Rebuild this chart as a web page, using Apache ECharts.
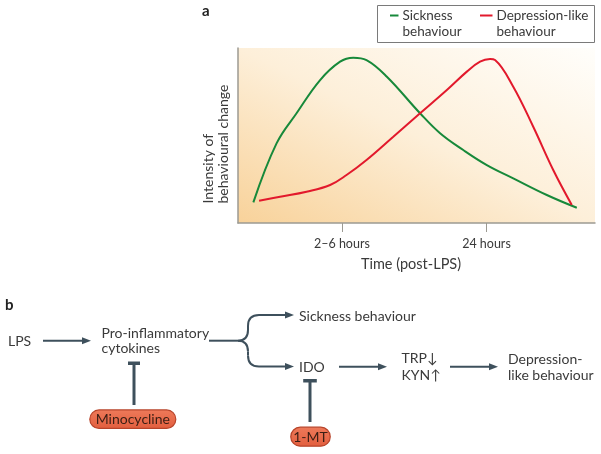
<!DOCTYPE html>
<html>
<head>
<meta charset="utf-8">
<script src="https://cdn.jsdelivr.net/npm/echarts@6/dist/echarts.min.js"></script>
<style>
html,body{margin:0;padding:0;background:#fff;}
#chart{width:601px;height:454px;}
</style>
</head>
<body>
<div id="chart"></div>
<script>
// ---- Panel a data ----
const xTickValues = [29.1, 69.6];
const xTickLabels = ['2–6 hours', '24 hours'];
const sicknessX = [4.3, 10.8, 16.4, 23.0, 28.6, 32.3, 36.0, 41.7, 51.0, 56.6, 63.1, 69.7, 77.1, 86.5, 94.9];
const sicknessY = [11.8, 45.5, 62.7, 81.7, 92.2, 94.5, 93.1, 83.6, 62.7, 51.3, 41.7, 33.1, 25.5, 16.0, 8.7];
const depressionX = [5.9, 11.8, 19.2, 25.8, 30.4, 36.0, 43.5, 51.0, 58.5, 64.1, 67.8, 70.6, 72.0, 77.1, 82.7, 88.3, 93.5];
const depressionY = [12.7, 15.0, 17.9, 21.7, 27.4, 36.0, 49.3, 62.7, 76.0, 86.5, 92.2, 93.7, 93.1, 77.9, 55.0, 30.3, 10.3];
const seriesNames = ['Sickness\nbehaviour', 'Depression-like\nbehaviour'];

const FONT = 'Lato, "Open Sans", sans-serif';
const TXT = '#3a3a3a';
const ARROW = '#3e505c';
const GREEN = '#17893a';
const RED = '#e2192c';

function pairs(xs, ys) { return xs.map((x, i) => [x, ys[i]]); }

function text(t, x, y, opts) {
  return {
    type: 'text', x: x, y: y,
    style: Object.assign({ text: t, font: '14px ' + FONT, fill: TXT, textAlign: 'left', textVerticalAlign: 'middle', lineHeight: 15 }, opts || {})
  };
}
function seg(x1, y1, x2, y2, w, color) {
  return { type: 'line', shape: { x1: x1, y1: y1, x2: x2, y2: y2 }, style: { stroke: color || ARROW, lineWidth: w || 2 } };
}
function quad(x1, y1, cx, cy, x2, y2) {
  return { type: 'bezierCurve', shape: { x1: x1, y1: y1, cpx1: cx, cpy1: cy, x2: x2, y2: y2 }, style: { stroke: ARROW, lineWidth: 2, fill: null } };
}
function head(x, y) {
  return { type: 'polygon', shape: { points: [[x, y], [x - 9, y - 3.5], [x - 9, y + 3.5]] }, style: { fill: ARROW } };
}
function arrow(x1, x2, y) {
  return [seg(x1, y, x2 - 6, y), head(x2, y)];
}
function inhibitor(x, yTop, yBot, half) {
  return [
    seg(x, yTop, x, yBot, 3),
    { type: 'rect', shape: { x: x - half, y: yTop - 2, width: half * 2, height: 3.5 }, style: { fill: ARROW } }
  ];
}
function pill(label, cx, cy, w, h) {
  return [
    { type: 'rect', shape: { x: cx - w / 2, y: cy - h / 2, width: w, height: h, r: h / 2 },
      style: { fill: { type: 'linear', x: 0, y: 0, x2: 0, y2: 1, colorStops: [{ offset: 0, color: '#ee7a5a' }, { offset: 1, color: '#e25e3e' }] }, stroke: '#b8442a', lineWidth: 1.2 } },
    text(label, cx, cy + 0.5, { textAlign: 'center', fill: '#3b1e14' })
  ];
}

const graphics = [
  // panel label a
  text('a', 202, 11, { font: 'bold 15px ' + FONT, fill: '#222' }),
  // legend box
  { type: 'rect', shape: { x: 377.5, y: 5.5, width: 217, height: 37 }, style: { fill: 'none', stroke: '#7a7a7a', lineWidth: 1 } },
  seg(390, 15.5, 398.5, 15.5, 2, GREEN),
  text(seriesNames[0], 402.5, 24, { lineHeight: 16, font: '13.5px ' + FONT }),
  seg(480, 15.5, 492.5, 15.5, 2, RED),
  text(seriesNames[1], 496.5, 24, { lineHeight: 16, font: '13.5px ' + FONT }),
  // y axis name (rotated)
  { type: 'text', x: 215.5, y: 203.5, rotation: Math.PI / 2,
    style: { text: 'Intensity of\nbehavioural change', font: '14px ' + FONT, fill: TXT, textAlign: 'left', textVerticalAlign: 'middle', lineHeight: 15 } },
  // x axis name
  text('Time (post-LPS)', 411, 264, { textAlign: 'center', font: '14.5px ' + FONT }),

  // panel b
  text('b', 5, 305, { font: 'bold 15px ' + FONT, fill: '#222' }),
  text('LPS', 8, 341),
  ...arrow(43, 91, 340.7),
  text('Pro-inflammatory\ncytokines', 101.5, 341),
  seg(209, 340.7, 238, 340.7),
  quad(238, 340.7, 248, 340.7, 248, 330),
  seg(248, 330, 248, 326),
  quad(248, 326, 248, 315, 259, 315),
  seg(259, 315, 288, 315),
  quad(238, 340.7, 248, 340.7, 248, 351.5),
  seg(248, 351.5, 248, 355.5),
  quad(248, 355.5, 248, 366.5, 259, 366.5),
  seg(259, 366.5, 288, 366.5),
  head(294, 315),
  head(294, 366.5),
  text('Sickness behaviour', 299, 316.5),
  text('IDO', 299, 367.5),
  ...arrow(339, 387, 366.7),
  text('TRP↓\nKYN↑', 401.5, 367, { lineHeight: 16.5 }),
  ...arrow(450, 498, 366.7),
  text('Depression-\nlike behaviour', 508, 367.5, { lineHeight: 16 }),
  ...inhibitor(134, 363.5, 405, 6),
  ...pill('Minocycline', 132.8, 419.2, 86, 18.5),
  ...inhibitor(310, 381, 422, 6.8),
  ...pill('1-MT', 310.5, 436.7, 39.5, 19)
];

const chart = echarts.init(document.getElementById('chart'), null, { renderer: 'canvas' });
chart.setOption({
  animation: false,
  backgroundColor: '#ffffff',
  textStyle: { fontFamily: FONT },
  grid: {
    left: 238, top: 48, right: 6, bottom: 231, show: true, borderWidth: 0,
    backgroundColor: { type: 'linear', global: true, x: 238, y: 223, x2: 376, y2: -59,
      colorStops: [{ offset: 0, color: '#f8d29a' }, { offset: 0.5, color: '#fdefd9' }, { offset: 1, color: '#fffefb' }] }
  },
  xAxis: {
    type: 'value', min: 0, max: 100,
    axisLine: { show: true, lineStyle: { color: '#9c9a92', width: 1.5 } },
    axisTick: { show: true, customValues: xTickValues, length: 9, lineStyle: { color: '#9c9a92', width: 1 } },
    axisLabel: { show: true, customValues: xTickValues, margin: 14, fontSize: 12.5, color: TXT, fontFamily: FONT,
      formatter: function (v) { const i = xTickValues.indexOf(v); return i >= 0 ? xTickLabels[i] : ''; } },
    splitLine: { show: false }
  },
  yAxis: {
    type: 'value', min: 0, max: 100,
    axisLine: { show: true, lineStyle: { color: '#9c9a92', width: 1.5 } },
    axisTick: { show: false }, axisLabel: { show: false }, splitLine: { show: false }
  },
  series: [
    { name: seriesNames[0], type: 'line', data: pairs(sicknessX, sicknessY), smooth: 0.4, symbol: 'none', lineStyle: { color: GREEN, width: 2 }, itemStyle: { color: GREEN } },
    { name: seriesNames[1], type: 'line', data: pairs(depressionX, depressionY), smooth: 0.4, symbol: 'none', lineStyle: { color: RED, width: 2 }, itemStyle: { color: RED } }
  ],
  graphic: graphics
});
</script>
</body>
</html>
